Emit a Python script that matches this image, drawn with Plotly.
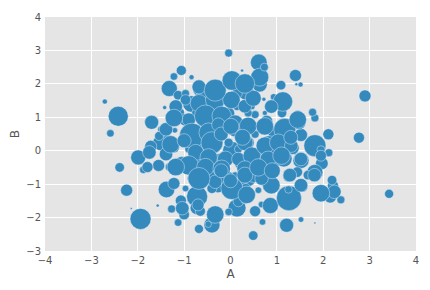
import plotly.graph_objects as go

# data: A (x), B (y), C (bubble diameter)
A = [-0.04, 0.61, 1.40, 2.90, 2.77, 3.42, 2.38, -2.71, -2.42, -2.59, -2.39, -2.24, -1.94, -2.14,
     -1.99, -1.88, -1.70, -1.57, -1.27, -1.13, -1.06, -1.22, -0.84, -1.32, -1.42, -1.13, -0.68,
     -0.40, -0.32, 0.49, 0.14, -0.04, 0.53, 0.69, 0.67, 0.86, 1.26, 1.21, 1.52, 1.82, 1.96, 2.15,
     2.21, 2.19, 2.12, 2.11, 1.97, 1.82, 1.82, 1.95, 1.82, 1.77, 1.52, 1.52, 1.55, 1.47, 1.45,
     1.51, 1.42, 1.18, 1.09, 0.93, 1.10, 1.11, 1.12, 1.34, 1.26, 1.25, 1.00, 0.24, 0.63, 0.63,
     0.73, 0.33, 0.03, -0.28, 0.25, 0.30, 0.14, -0.66, -0.61, -0.79, -0.85, -0.29, -0.28, 0.33,
     0.51, 0.72, 0.81, -0.04, -1.11, -0.99, -0.60, -0.53, -1.20, -1.50, -1.50, -1.72, -1.55,
     -1.37, -1.22, -1.34, -1.32, -1.38, -1.22, -1.07, -1.06, -1.00, -0.72, -0.73, -0.65, -0.52,
     -0.70, -0.27, -0.31, 0.37, 0.33, 0.06, 0.60, 0.50, 0.54, 0.77, 0.78, 1.15, 1.01, 1.44, 1.67,
     0.95, -0.07, 0.10, -0.08, -0.40, -0.68, -0.90, -1.05, -0.90, -0.68, -0.43, -0.26, 0.03,
     0.37, 0.53, 0.78, 0.94, 1.03, 0.83, -0.11, -0.04, -0.22, 0.11, -0.40, -0.26, -0.92, -0.85,
     -0.51, 0.74, 0.53, 0.38, 0.17, -0.26, 0.46, -0.40, -0.04, 0.17, -0.97, -0.83, 1.17, 1.31,
     -0.97, -0.40, 0.14, 0.46, -0.75, -0.48, 0.31, 1.87,
     -0.97, -0.68, -0.33, 0.02, 0.31, 0.49, -0.90, -0.54, -0.19, 0.10, 0.38, -0.83, -0.47,
     -0.26, -0.04, -0.40, 0.31, -0.75, -0.47, -0.11, 0.17, 0.46, -0.90, -0.54, -0.19, 0.31,
     0.74, 1.17, 1.45, 0.74, 1.03, 1.31, 0.81, 1.10, 1.52, 1.13, 0.88, 1.95,
     -1.04, -0.33, -0.68, 0.03, -0.33, 0.31, 0.35, 0.53,
     -1.54, -1.39, -1.18, -1.22, -1.75, -1.39, -1.18, -1.29, -1.79,
     1.28, 0.88, 1.52, 2.24, 1.95, 0.67, 1.81,
     0.60, 0.90, -0.20, 1.30, -1.00, -0.20, 0.00,
     -0.68, -0.33, 0.03, 0.31, 0.01, 0.26]
B = [2.92, 2.64, 2.25, 1.64, 0.39, -1.29, -1.47, 1.47, 1.03, 0.52, -0.50, -1.18, -2.04, -1.73,
     -0.20, -0.57, 0.85, -1.64, -1.74, -2.15, 2.40, 2.22, 2.20, 1.86, 1.29, 1.66, -2.34,
     -2.22, -1.91, -2.54, -1.71, -1.83, -1.79, -2.13, -1.61, -1.64, -1.42, -2.23, -2.06, -2.16,
     -1.27, -1.37, -1.05, -0.88, -0.06, 0.49, -0.38, -0.65, 0.15, 0.03, 0.98, 1.15, 0.47, -0.29,
     -1.08, 0.85, 1.03, 1.98, 1.99, 1.42, 1.96, 1.61, 1.57, 1.13, 0.61, 0.08, -0.75, -1.16,
     -0.24, -0.34, 1.98, 2.20, 2.50, 1.76, 2.13, 2.01, 2.40, 2.01, 1.71, 1.83, 1.66, 1.44, 1.40,
     1.76, 1.39, 1.44, 1.52, 1.54, 1.30, 1.12, 1.13, 0.93, 0.98, 0.75, 0.61, 0.64, 0.24, 0.13,
     -0.44, 0.39, 0.10, -0.15, -0.49, -1.16, -0.98, -1.49, -1.76, -1.91, -1.37, -1.71, -1.81,
     -0.73, -1.62, -1.08, -0.83, -0.83, -1.13, -1.30, -1.18, -0.71, -0.15, -0.10, -0.83, -0.24,
     -0.15, -0.64, -0.73, -1.03, -0.83, -0.73, -0.34, -0.34, -0.13, 0.05, -0.39, -0.44, 0.34,
     0.34, 0.24, 0.00, 0.24, 0.49, 0.88, 0.54, 0.15, 0.15, 0.98, 1.42, 0.69, 0.69, 1.03, 1.40,
     0.49, 0.64, 0.00, 1.13, 1.08, 1.13, 0.05, -0.24, -0.24, -1.13, -1.13, -1.52, -1.13, -0.83,
     0.44, 0.73, 1.71, 1.62, 1.32, 1.32, 1.13, -2.20, -1.47, -1.32,
     1.52, 1.42, 1.52, 1.52, 1.33, 1.57, 0.93, 1.04, 1.04, 0.83, 0.74, 0.45, 0.54,
     0.78, 0.24, 0.24, 0.24, -0.05, -0.20, -0.25, -0.25, -0.15, -0.44, -0.49, -0.54, -0.54,
     0.73, 0.64, 0.93, 0.15, 0.24, 0.15, -0.25, -0.15, -0.25, 1.47, 1.32, -0.15,
     -1.72, -0.93, -0.83, -1.13, -1.91, -0.73, -1.32, -1.81,
     0.44, 0.64, 1.32, 0.98, -0.05, -0.10, -0.49, 0.19, -0.49,
     -0.73, -1.03, -1.03, -1.23, -1.27, -0.83, -0.73,
     -0.50, -0.60, -0.60, 0.40, 0.30, 0.50, -0.90,
     1.91, 1.81, 2.10, 2.01, 0.73, 0.40]
C = [8, 16.7, 12, 12, 11, 9, 8, 5, 20, 7.5, 9.5, 12, 21, 2, 15, 7.5, 14, 3, 8, 7.5, 10, 7.5,
     5, 16, 4, 9.5, 9, 16, 11, 9.5, 18, 7.5, 5.5, 6.5, 6.5, 16, 25, 14, 5.5, 2, 10.5, 13, 11,
     9.5, 8, 11, 12.5, 16, 22, 8, 8, 8, 13, 16, 10.5, 14.5, 12, 5, 3, 11, 9.5, 6.5, 4, 9.5, 12,
     13, 12.5, 7.5, 15, 15, 15, 18, 8, 16, 14.5, 6, 3, 9.5, 10.5, 14, 12, 9, 16.5, 14.5, 12,
     5, 3.5, 4, 6.5, 12, 11, 12, 14.5, 10.5, 5.5, 6.5, 16, 12, 12, 6.5, 11, 4, 8, 16.5, 12,
     11, 9.5, 10.5, 21, 13, 10, 20, 12, 12, 16, 16.5, 10, 8.5, 6.5, 16, 13, 6.5, 8, 16.5, 13,
     10.5, 9.5, 5.5, 14.5, 6.5, 6.5, 9.5, 16, 8, 14.5, 14.5, 23, 10, 6.5, 18.5, 13, 8, 12, 12,
     14.5, 20, 6.5, 6.5, 14.5, 18.5, 8, 8, 6.5, 11, 10, 5, 8, 8, 8, 10, 12, 10, 9.5, 10.5, 6.5,
     9.5, 10.5, 9.5, 8, 6.5, 8, 6.5, 8, 6.5, 8, 7, 10.5,
     17.5, 19.5, 17.5, 13.5, 16, 13.5, 22, 19.5, 16, 17.5, 25, 19.5, 13.5,
     9, 22, 16, 16, 17.5, 16, 13.5, 17.5, 19.5, 17.5, 17.5, 16, 17.5,
     22, 17.5, 17.5, 17.5, 13.5, 16, 17.5, 13.5, 19.5, 13.5, 11, 13.5,
     13.5, 22, 22, 17.5, 16, 17.5, 11, 9,
     13.5, 13.5, 17.5, 13.5, 13.5, 17.5, 17.5, 11, 13.5,
     17.5, 13.5, 13.5, 17.5, 13.5, 13.5, 17.5,
     16, 14, 14, 14, 14, 14, 14,
     22, 19.5, 19.5, 16, 16, 25]

fig = go.Figure(go.Scatter(
    x=A, y=B, mode="markers",
    marker=dict(size=C, sizemode="diameter", color="#348ABD", opacity=1,
                line=dict(color="rgba(230,240,250,0.75)", width=0.6)),
    showlegend=False, hoverinfo="skip"))

axis_common = dict(showgrid=True, gridcolor="white", gridwidth=1, zeroline=False,
                   showline=False, ticks="", color="#555555",
                   tickfont=dict(family="DejaVu Sans", size=10, color="#555555"))
fig.update_xaxes(range=[-4, 4], dtick=1, ticklabelstandoff=2,
                 title=dict(text="A", standoff=4,
                            font=dict(family="DejaVu Sans", size=12, color="#555555")),
                 **axis_common)
fig.update_yaxes(range=[-3, 4], dtick=1, ticklabelstandoff=3,
                 title=dict(text="B", standoff=4,
                            font=dict(family="DejaVu Sans", size=12, color="#555555")),
                 **axis_common)
fig.update_layout(width=430, height=290, plot_bgcolor="#E5E5E5", paper_bgcolor="white",
                  margin=dict(l=45, r=11, t=12, b=39))
fig.write_html("out.html")
